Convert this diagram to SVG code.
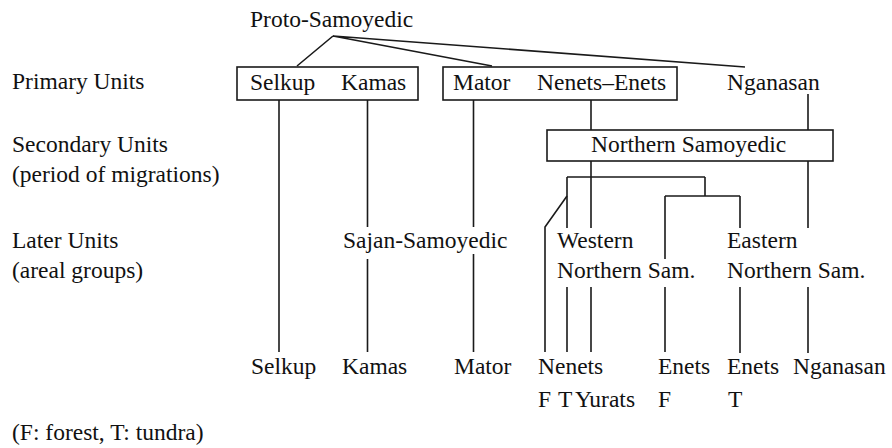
<svg xmlns="http://www.w3.org/2000/svg" width="892" height="448" viewBox="0 0 892 448" font-family="'Liberation Serif', 'DejaVu Serif', serif">
<style>
text{font-family:'Liberation Serif','DejaVu Serif',serif;font-size:23.5px;fill:#111}
.ln{stroke:#1a1a1a;stroke-width:1.6;fill:none}
.bx{stroke:#1a1a1a;stroke-width:1.6;fill:#fff}
</style>
<rect width="892" height="448" fill="#fff"/>
<g id="row-labels">
<text x="12" y="89">Primary Units</text>
<text x="12" y="152">Secondary Units</text>
<text x="12" y="182">(period of migrations)</text>
<text x="12" y="248">Later Units</text>
<text x="12" y="278">(areal groups)</text>
<text x="12" y="440">(F: forest, T: tundra)</text>
</g>
<g id="connectors">
<path class="ln" d="M333,36 L297,66 M333,36 L492,66 M333,36 L745,67"/>
<path class="ln" d="M279,100 V352"/>
<path class="ln" d="M367.5,100 V227 M367.5,259 V352"/>
<path class="ln" d="M473.5,100 V227 M473.5,254 V352"/>
<path class="ln" d="M591,100 V130"/>
<path class="ln" d="M808,94 V130 M808,161 V228 M808,287 V353"/>
<path class="ln" d="M591,161 V228 M591,287 V352"/>
<path class="ln" d="M567,177 H705 M567,177 V228 M567,287 V352 M705,177 V196"/>
<path class="ln" d="M665,196 H740 M665,196 V259 M665,287 V352 M740,196 V228 M740,287 V353"/>
<path class="ln" d="M567,196 L545,227 V352"/>
</g>
<g id="proto"><text x="250" y="27">Proto-Samoyedic</text></g>
<g id="box-selkup-kamas">
<rect class="bx" x="237" y="67" width="181" height="33"/>
<text x="250" y="90">Selkup</text>
<text x="341" y="90">Kamas</text>
</g>
<g id="box-mator-nenets-enets">
<rect class="bx" x="443" y="67" width="234" height="33"/>
<text x="453" y="90">Mator</text>
<text x="537" y="90">Nenets–Enets</text>
</g>
<g id="nganasan-primary"><text x="727" y="90">Nganasan</text></g>
<g id="northern-samoyedic">
<rect class="bx" x="547" y="130" width="286" height="31"/>
<text x="591" y="152">Northern Samoyedic</text>
</g>
<g id="sajan-samoyedic"><text x="343" y="248">Sajan-Samoyedic</text></g>
<g id="western-northern">
<text x="557" y="248">Western</text>
<text x="557" y="278">Northern Sam.</text>
</g>
<g id="eastern-northern">
<text x="727" y="248">Eastern</text>
<text x="727" y="278">Northern Sam.</text>
</g>
<g id="leaf-selkup"><text x="251" y="374">Selkup</text></g>
<g id="leaf-kamas"><text x="342" y="374">Kamas</text></g>
<g id="leaf-mator"><text x="454" y="374">Mator</text></g>
<g id="leaf-nenets">
<text x="538" y="374">Nenets</text>
<text x="538" y="407">F</text>
<text x="558" y="407">T</text>
<text x="575" y="407">Yurats</text>
</g>
<g id="leaf-enets-f">
<text x="658" y="374">Enets</text>
<text x="658" y="407">F</text>
</g>
<g id="leaf-enets-t">
<text x="727" y="374">Enets</text>
<text x="728" y="407">T</text>
</g>
<g id="leaf-nganasan"><text x="793" y="374">Nganasan</text></g>
</svg>
